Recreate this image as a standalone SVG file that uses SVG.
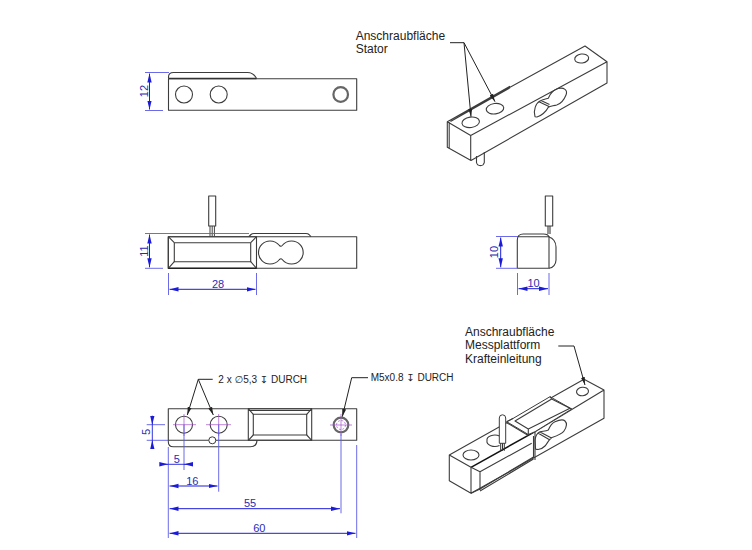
<svg xmlns="http://www.w3.org/2000/svg" width="752" height="550" viewBox="0 0 752 550">
<style>
.o{fill:none;stroke:#3c3c3c;stroke-width:1.1;stroke-linejoin:round}
.k{fill:none;stroke:#222;stroke-width:1}
.f{fill:#fff;stroke:#3c3c3c;stroke-width:1}
.e{fill:none;stroke:#5a5ae6;stroke-width:.9}
.d{fill:none;stroke:#1c1cd8;stroke-width:1;marker-start:url(#a);marker-end:url(#a)}
.c{fill:none;stroke:#a050c8;stroke-width:.7}
.dt{font:11px "Liberation Sans",Arial,sans-serif;fill:#2a2ab4;text-anchor:middle}
.l{font:12px "Liberation Sans",Arial,sans-serif;fill:#222}
.s{font:10px "Liberation Sans","DejaVu Sans",Arial,sans-serif;fill:#222}
</style>
<defs>
<marker id="a" markerUnits="userSpaceOnUse" markerWidth="9" markerHeight="6" refX="9" refY="3" orient="auto-start-reverse"><path d="M0 .8L9 3L0 5.200z" fill="#1c1cd8"/></marker>
<marker id="b" markerUnits="userSpaceOnUse" markerWidth="8" markerHeight="6" refX="8" refY="3" orient="auto"><path d="M0 1L8 3L0 5z" fill="#222"/></marker>
</defs>

<g id="view-top">
<path class="o" d="M168.500 78.500v-1.500q0-4.500 5-4.500h74q6 0 9 6"/>
<rect class="o" x="168.500" y="78.700" width="188.200" height="31.600"/>
<path d="M168.500 78.500H256.500" stroke="#333" stroke-width="1.400"/>
<circle class="o" cx="184" cy="94.500" r="8.500"/>
<circle class="o" cx="218.700" cy="94.500" r="8.500"/>
<circle cx="340.700" cy="94.500" r="7.300" fill="none" stroke="#666" stroke-width="2.200"/>
</g>

<g id="view-front">
<rect x="208.700" y="196" width="7" height="30" class="o"/>
<path d="M210 226v10M212.200 226v10M214.400 226v10" stroke="#444" stroke-width="1"/>
<path class="o" d="M249 236.500l2-2q1-1 3-1h52q2 0 3 1l2 2.200"/>
<rect class="o" x="168.300" y="236.700" width="188.400" height="31.600"/>
<rect class="o" x="168.300" y="236.700" width="88.200" height="31.600"/>
<rect class="o" x="174.300" y="242.700" width="76.400" height="19"/>
<path class="o" d="M168.300 236.700l6 6M256.500 236.700l-5.800 6M168.300 268.300l6-6.600M256.500 268.300l-5.800-6.600"/>
<path d="M168.300 268.300H256.500" stroke="#222" stroke-width="1.200"/>
<path class="o" d="M270 241c4 0 7 1.500 9.500 4.500q1.500 1.500 2.700 0c2.300-3 5.600-4.500 9.500-4.500a11.500 11.500 0 0 1 0 23c-3.900 0-7.200-1.500-9.500-4.500q-1.200-1.500-2.700 0c-2.500 3-5.500 4.500-9.500 4.500a11.500 11.500 0 0 1 0-23z"/>
</g>

<g id="view-side">
<rect x="545.300" y="196" width="7.400" height="30" class="o"/>
<path class="o" d="M548 226v8M550 226v8"/>
<path class="o" d="M517.300 268.300V240q0-6 6-6h20q5 0 5.700 3M549 237c4 1 7 5 7 10v13c0 4-3 8-7 8.300M517.300 236.800H549"/>
<path class="o" d="M517.300 268.300H549V236"/>
</g>

<g id="view-bottom">
<path class="o" d="M168.300 440.300v1.400q0 5 5 5h77q6.700 0 6.700-6.400"/>
<rect class="o" x="168.300" y="408.700" width="188.400" height="31.600"/>
<rect class="o" x="248.300" y="408.700" width="63.400" height="31.600"/>
<path class="o" d="M248.300 410.500H311.700"/>
<rect class="o" x="253.300" y="414.300" width="53.400" height="20.700"/>
<path class="o" d="M248.300 408.700l5 5.600M311.700 408.700l-5 5.600M248.300 440.300l5-5.300M311.700 440.300l-5-5.300"/>
<circle class="o" cx="184" cy="424.700" r="8.500"/>
<circle class="o" cx="218.700" cy="424.700" r="8.500"/>
<circle class="f" cx="212.300" cy="440.300" r="3.500"/>
<circle cx="341" cy="425" r="7.300" fill="none" stroke="#666" stroke-width="2.200"/>
<circle class="c" cx="341" cy="425" r="4.500" stroke-dasharray="2 1.500"/>
<path class="c" d="M173 424.700H196M184 414V436M206 424.700H231M218.700 414V436M330 425H352M341 414V436"/>
</g>

<g id="iso-top">
<path class="o" d="M447.300 121.700L585 46L607 61.700V83L471 160.500L447.300 147.300ZM447.300 121.700L470.700 135.500L607 61.700M470.700 135.500V160.500M449.200 122V148M449.200 120.800L510 86.300M450.500 121.500L510 87.800"/>
<path class="o" d="M476.500 156v6.500a4 4 0 0 0 7.800 0V152"/>
<ellipse class="o" cx="470.700" cy="122.300" rx="8.800" ry="5.200" transform="rotate(-8 470.700 122.300)"/>
<ellipse class="o" cx="495" cy="108.700" rx="8.800" ry="5.200" transform="rotate(-8 495 108.700)"/>
<ellipse class="o" cx="581.700" cy="58.500" rx="7" ry="4.500" transform="rotate(-8 581.700 58.500)"/>
<path class="o" d="M535 116.700C533 110 536 103 540 101C544 99 546 99 548.300 98.300C550 94 553 90 558 88.500C564 87 568 90 566 95C564 100 560 104 556.700 105C553 106 550 106 548.300 107.300C546 112 541 116 537 117ZM539.500 102L549 106.500M541 100.500L549.500 104.500"/>
</g>

<g id="iso-bottom">
<path class="o" d="M449.300 455L584 379.300L604 390V418.300L471 493.300L449.300 480.700ZM449.300 455L471 467.300M535 431.700L604 390M471 467.300V493.300"/>
<path d="M471 467.300L535 431.700" stroke="#111" stroke-width="1.500"/>
<path class="o" d="M471 467.300L480 471.700L531.700 443.300M480 471.700V490M471 493.300L480 489L533.500 457M480 491L533.500 459M535 431.700V460M533.500 436V458"/>
<path class="f" d="M513.300 418.300L550 396.700L571.700 409L535 431.700L528.300 434.500L506.700 421.700Z"/>
<path class="o" d="M515 421L551.700 399L570 408.300L528.300 429ZM506.700 421.700L513.300 418.300M506.700 422.700L528.300 435.500M528.300 429V435M550 396.700L551.700 399M571.700 409L570 408.300M515 421L528.300 429"/>
<path class="o" d="M535 440C535.500 436 537 433 540 431.700C544 431 546 431 548.300 430C550 426 552 423 555 421.700C559 420 563 419 565 421C568 424 566 428 564 431C562 434 558 435.500 552 437.500C549 439 547 444 545 446C542 449 538 450 535.500 449ZM538.300 433.300L550 440M540 432L551.500 438"/>
<ellipse class="o" cx="471" cy="455" rx="8" ry="5"/>
<ellipse class="o" cx="582.500" cy="391.500" rx="6" ry="4.200" transform="rotate(-6 582.500 391.500)"/>
<path class="o" d="M499.500 445.500A8 5 0 0 1 487 440.700A8 5 0 0 1 499.500 436"/>
<path class="f" d="M499.300 443.300V418a3.200 3.200 0 0 1 6.400 0V443.300Z"/>
<path d="M500.700 443.300v7.500M502.500 443.300v7.500M504.300 443.300v7.500" stroke="#333"/>
</g>

<g id="connectors">
<path class="e" d="M145 72.500H169M145 110.500H163"/>
<path class="d" d="M149.500 73.500V109.500"/>
<path class="e" d="M145 233.500H249M145 268.300H163"/>
<path class="d" d="M149.500 234.500V267.300"/>
<path class="e" d="M168.500 273V295M256.500 273V295"/>
<path class="d" d="M169.500 289.300H255.500"/>
<path class="e" d="M496 236.500H518M496 268.300H518M517.500 273V295M549 273V295"/>
<path class="d" d="M500.700 237.500V267.300"/>
<path class="d" d="M518.500 288.700H548"/>
<path class="e" d="M146.700 424.700H165M146.700 440.300H168M168.300 447V538M184 424.700V470M218.700 424.700V491.700M341 434V513.300M356.700 445V538"/>
<path class="d" d="M152.300 415.700V424.700" style="marker-start:none"/>
<path class="d" d="M152.300 448.300V440.300" style="marker-start:none"/>
<path d="M152.300 424.700V440.300" stroke="#1c1cd8" stroke-width=".9"/>
<path class="d" d="M160 464.300H168.300" style="marker-start:none"/>
<path class="d" d="M192.700 464.300H184" style="marker-start:none"/>
<path d="M168.300 464.300H184" stroke="#1c1cd8" stroke-width=".9"/>
<path class="d" d="M169.500 486H217.500"/>
<path class="d" d="M169.500 508.700H340"/>
<path class="d" d="M169.500 533.300H355.500"/>
<path class="k" d="M450 42.700H464L471 116.700" marker-end="url(#b)"/>
<path class="k" d="M464 42.700L495 101.700" marker-end="url(#b)"/>
<path class="k" d="M558.300 346H574L585 385" marker-end="url(#b)"/>
<path class="k" d="M212.700 379.300H198.300L187.300 415" marker-end="url(#b)"/>
<path class="k" d="M198.300 379.300L213.300 415" marker-end="url(#b)"/>
<path class="k" d="M368 377.700H351.700L342.300 416.700" marker-end="url(#b)"/>
</g>

<g id="labels">
<text class="dt" transform="translate(147.500 91) rotate(-90)">12</text>
<text class="dt" transform="translate(147.500 251) rotate(-90)">11</text>
<text class="dt" x="218" y="288">28</text>
<text class="dt" transform="translate(498 252) rotate(-90)">10</text>
<text class="dt" x="533.500" y="287">10</text>
<text class="dt" transform="translate(150 432) rotate(-90)">5</text>
<text class="dt" x="176.700" y="463">5</text>
<text class="dt" x="192.300" y="484.500">16</text>
<text class="dt" x="250" y="506.500">55</text>
<text class="dt" x="259.300" y="531.500">60</text>
<text class="l" x="355.700" y="40">Anschraubfläche</text>
<text class="l" x="355.700" y="52.700">Stator</text>
<text class="l" x="465" y="335.500">Anschraubfläche</text>
<text class="l" x="465" y="349">Messplattform</text>
<text class="l" x="465" y="362.500">Krafteinleitung</text>
<text class="s" x="218.300" y="383">2 x ∅5,3 ↧ DURCH</text>
<text class="s" x="370.700" y="381">M5x0.8 ↧ DURCH</text>
</g>
</svg>
